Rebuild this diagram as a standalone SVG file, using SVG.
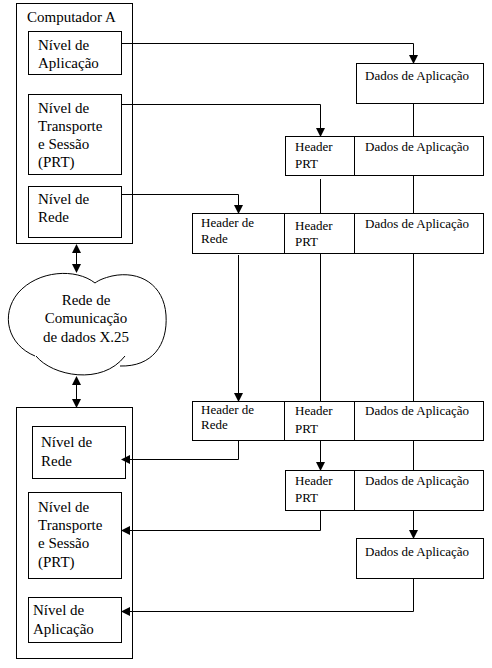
<svg xmlns="http://www.w3.org/2000/svg" width="492" height="668" viewBox="0 0 492 668">
<style>
rect{fill:#fff;stroke:#000;stroke-width:1}
text{font-family:'Liberation Serif','Times New Roman','DejaVu Serif',serif;fill:#000}
.t{font-size:15px}
.s{font-size:13px}
.c{stroke:#000;stroke-width:1;fill:none}
</style>
<defs>
<marker id="a" markerWidth="9" markerHeight="9" refX="8" refY="4.5" orient="auto-start-reverse" markerUnits="userSpaceOnUse">
<path d="M0,0 L9,4.5 L0,9 Z" fill="#000"/>
</marker>
</defs>
<rect x="0" y="0" width="492" height="668" style="stroke:none"/>

<g id="computadorA">
<rect x="16.5" y="3.5" width="116" height="240"/>
<text class="t" x="27" y="22" font-family="Liberation Serif, serif">Computador A</text>
</g>
<g id="top-aplicacao">
<rect x="28.5" y="31.5" width="93" height="43"/>
<text class="t" x="38" y="50">Nível de</text>
<text class="t" x="38" y="68">Aplicação</text>
</g>
<g id="top-transporte">
<rect x="28.5" y="94.5" width="93" height="80"/>
<text class="t" x="38" y="113">Nível de</text>
<text class="t" x="38" y="131">Transporte</text>
<text class="t" x="38" y="149">e Sessão</text>
<text class="t" x="38" y="167">(PRT)</text>
</g>
<g id="top-rede">
<rect x="28.5" y="186.5" width="93" height="51"/>
<text class="t" x="38" y="204">Nível de</text>
<text class="t" x="38" y="222">Rede</text>
</g>

<g id="cloud">
<path class="c" d="M95,283 C76,268 38,270 18,293 C0,315 8,345 35,356"/>
<path class="c" d="M36,356 C52,376 102,386 125,356"/>
<path class="c" d="M120,366 C152,367 168,345 166,315 C164,285 140,270 112,276 C104,278 99,280 95,283"/>
<text class="t" x="86" y="305" text-anchor="middle">Rede de</text>
<text class="t" x="86" y="323" text-anchor="middle">Comunicação</text>
<text class="t" x="86" y="342" text-anchor="middle">de dados X.25</text>
</g>

<g id="p1">
<rect x="356.5" y="63.5" width="127" height="40"/>
<text class="s" x="365" y="80">Dados de Aplicação</text>
</g>
<g id="p2">
<rect x="285.5" y="136.5" width="69" height="39"/>
<rect x="354.5" y="136.5" width="129" height="39"/>
<text class="s" x="295" y="151">Header</text>
<text class="s" x="295" y="168">PRT</text>
<text class="s" x="365" y="151">Dados de Aplicação</text>
</g>
<g id="p3">
<rect x="192.5" y="213.5" width="92" height="40"/>
<rect x="284.5" y="213.5" width="70" height="40"/>
<rect x="354.5" y="213.5" width="129" height="40"/>
<text class="s" x="201" y="227">Header de</text>
<text class="s" x="201" y="243">Rede</text>
<text class="s" x="295" y="230">Header</text>
<text class="s" x="295" y="246">PRT</text>
<text class="s" x="365" y="228">Dados de Aplicação</text>
</g>
<g id="p4">
<rect x="192.5" y="401.5" width="92" height="39"/>
<rect x="284.5" y="401.5" width="70" height="39"/>
<rect x="354.5" y="401.5" width="129" height="39"/>
<text class="s" x="201" y="414">Header de</text>
<text class="s" x="201" y="429">Rede</text>
<text class="s" x="295" y="415">Header</text>
<text class="s" x="295" y="433">PRT</text>
<text class="s" x="365" y="415">Dados de Aplicação</text>
</g>
<g id="p5">
<rect x="285.5" y="470.5" width="69" height="40"/>
<rect x="354.5" y="470.5" width="129" height="40"/>
<text class="s" x="295" y="485">Header</text>
<text class="s" x="295" y="502">PRT</text>
<text class="s" x="365" y="485">Dados de Aplicação</text>
</g>
<g id="p6">
<rect x="356.5" y="538.5" width="127" height="40"/>
<text class="s" x="365" y="556">Dados de Aplicação</text>
</g>

<g id="computadorB">
<rect x="16.5" y="407.5" width="116" height="251"/>
</g>
<g id="bot-rede">
<rect x="32.5" y="426.5" width="93" height="52"/>
<text class="t" x="41" y="447">Nível de</text>
<text class="t" x="41" y="466">Rede</text>
</g>
<g id="bot-transporte">
<rect x="28.5" y="492.5" width="93" height="86"/>
<text class="t" x="38" y="512">Nível de</text>
<text class="t" x="38" y="530">Transporte</text>
<text class="t" x="38" y="548">e Sessão</text>
<text class="t" x="38" y="567">(PRT)</text>
</g>
<g id="bot-aplicacao">
<rect x="28.5" y="597.5" width="93" height="45"/>
<text class="t" x="33" y="615">Nível de</text>
<text class="t" x="33" y="634">Aplicação</text>
</g>

<g id="connectors">
<path class="c" d="M121.5,43.5 H413.5 V63" marker-end="url(#a)"/>
<path class="c" d="M121.5,104.5 H320.5 V136" marker-end="url(#a)"/>
<path class="c" d="M121.5,194.5 H238.5 V213" marker-end="url(#a)"/>
<path class="c" d="M413.5,103.5 V136.5"/>
<path class="c" d="M320.5,179 V213.5"/>
<path class="c" d="M413.5,175.5 V213.5"/>
<path class="c" d="M238.5,255 V401" marker-end="url(#a)"/>
<path class="c" d="M320.5,254 V401.5"/>
<path class="c" d="M413.5,254 V401.5"/>
<path class="c" d="M320.5,440.5 V470" marker-end="url(#a)"/>
<path class="c" d="M413.5,440.5 V470.5"/>
<path class="c" d="M413.5,510.5 V538" marker-end="url(#a)"/>
<path class="c" d="M238.5,440 V459.5 H122" marker-end="url(#a)"/>
<path class="c" d="M320.5,510.5 V530.5 H122" marker-end="url(#a)"/>
<path class="c" d="M413.5,578.5 V611.5 H122" marker-end="url(#a)"/>
<path class="c" d="M76.5,245 V272" marker-start="url(#a)" marker-end="url(#a)"/>
<path class="c" d="M76.5,377 V407" marker-start="url(#a)" marker-end="url(#a)"/>
</g>
</svg>
